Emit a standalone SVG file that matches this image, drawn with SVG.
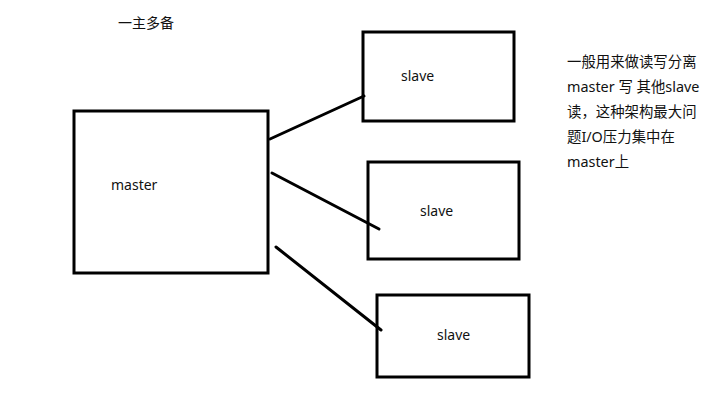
<svg xmlns="http://www.w3.org/2000/svg" width="715" height="401" viewBox="0 0 715 401">
<style>
.box{fill:none;stroke:#000;stroke-width:3}
.ln{stroke:#000;stroke-width:3;stroke-linecap:round;fill:none}
text{font-family:"Noto Sans","Noto Sans CJK SC",sans-serif;font-size:14px;fill:#111}
.note{font-size:14.4px}
</style>
<rect width="715" height="401" fill="#fff"/>
<text id="title" x="118" y="28">一主多备</text>
<g id="master">
<rect class="box" x="74" y="111" width="194" height="162"/>
<text x="111" y="190">master</text>
</g>
<g id="slave1">
<rect class="box" x="363" y="32" width="151" height="89"/>
<text x="401" y="81">slave</text>
</g>
<g id="slave2">
<rect class="box" x="368" y="162" width="151" height="97"/>
<text x="420" y="216">slave</text>
</g>
<g id="slave3">
<rect class="box" x="377" y="295" width="152" height="82"/>
<text x="437" y="340">slave</text>
</g>
<g id="connectors">
<line class="ln" x1="270" y1="139" x2="364" y2="96"/>
<line class="ln" x1="272" y1="173" x2="379" y2="229"/>
<line class="ln" x1="276" y1="247" x2="381" y2="330"/>
</g>
<g id="note" class="note">
<text class="note" x="567" y="67">一般用来做读写分离</text>
<text class="note" x="567" y="92">master 写 其他slave</text>
<text class="note" x="567" y="117">读，这种架构最大问</text>
<text class="note" x="567" y="142">题I/O压力集中在</text>
<text class="note" x="567" y="167">master上</text>
</g>
</svg>
